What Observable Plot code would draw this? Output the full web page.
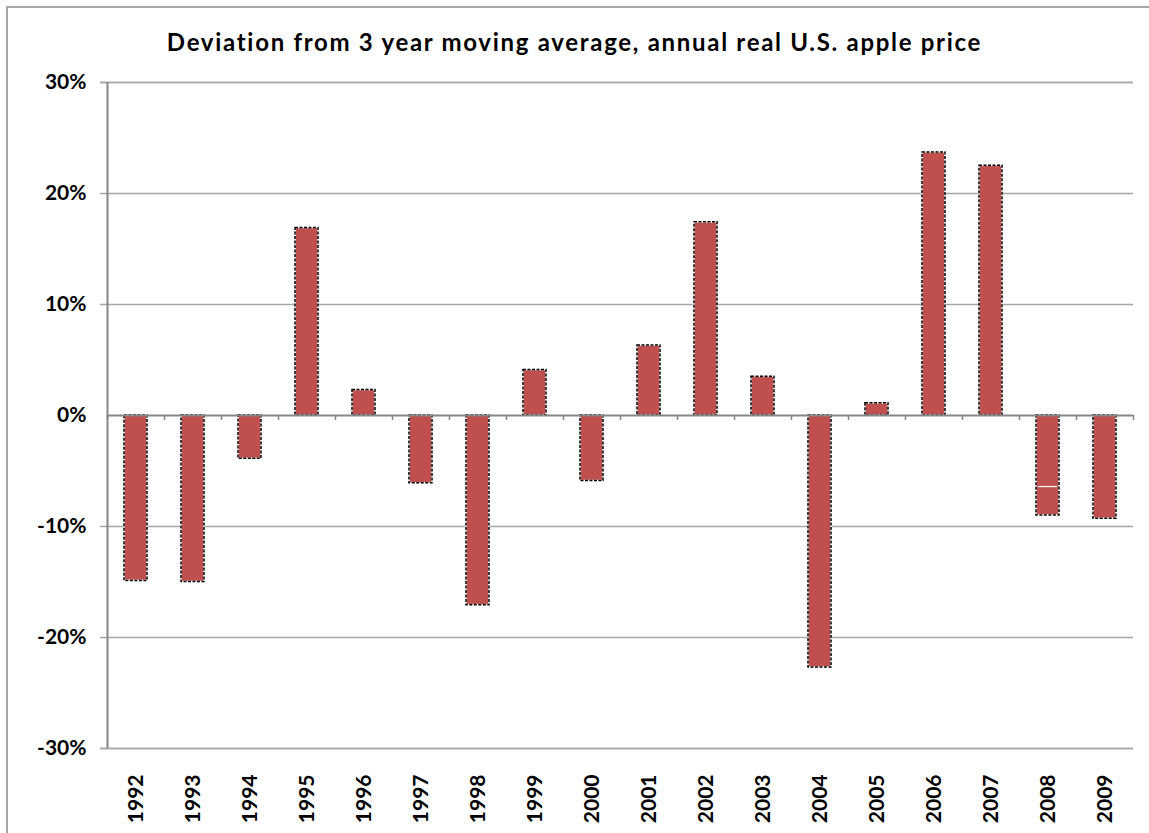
<!DOCTYPE html>
<html>
<head>
<meta charset="utf-8">
<script src="https://cdn.jsdelivr.net/npm/d3@7"></script>
<script src="https://cdn.jsdelivr.net/npm/@observablehq/plot@0.6"></script>
<style>
  html, body { margin: 0; padding: 0; background: #fff; overflow: hidden; }
  #frame { position: absolute; left: 6px; top: 6px; width: 1300px; height: 1000px; z-index: 5;
           border-left: 2px solid #a6a6a6; border-top: 2px solid #a6a6a6; pointer-events: none; }
  #title { position: absolute; left: 0; top: 27px; width: 1149px; text-align: center;
           font-family: Lato, sans-serif; font-weight: bold; font-size: 24px; line-height: 30px;
           letter-spacing: 1.7px; color: #000; }
  #chart { position: absolute; left: 0; top: 60px; }
</style>
</head>
<body>
<div id="frame"></div>
<div id="title">Deviation from 3 year moving average, annual real U.S. apple price</div>
<div id="chart"></div>
<script>
const years = [1992, 1993, 1994, 1995, 1996, 1997, 1998, 1999, 2000,
               2001, 2002, 2003, 2004, 2005, 2006, 2007, 2008, 2009];
const deviations = [-0.149, -0.150, -0.039, 0.169, 0.023, -0.061, -0.171, 0.041, -0.059,
                    0.063, 0.174, 0.035, -0.227, 0.011, 0.237, 0.225, -0.090, -0.093];
const yTicks = [-0.3, -0.2, -0.1, 0, 0.1, 0.2, 0.3];
const artifactYear = [2008];
const artifactValue = [-0.064];

const data = years.map((year, i) => ({year, value: deviations[i]}));
const artifact = artifactYear.map((year, i) => ({year, value: artifactValue[i]}));

const W = 1149, H = 773, mL = 107, mR = 16, mT = 22, mB = 85;
const step = (W - mL - mR) / years.length;

const chart = Plot.plot({
  width: W,
  height: H,
  marginLeft: mL,
  marginRight: mR,
  marginTop: mT,
  marginBottom: mB,
  style: {fontFamily: "Lato, sans-serif", fontSize: "21px", fontWeight: "bold", color: "#000", background: "#fff"},
  x: {type: "band", domain: years, paddingInner: 0.6, paddingOuter: 0.3, label: null},
  y: {domain: [-0.3, 0.3], label: null},
  marks: [
    Plot.ruleY(yTicks.filter(d => d !== 0), {y: d => d, stroke: "#a6a6a6", strokeWidth: 1.5, insetLeft: -7}),
    Plot.axisY({ticks: yTicks, tickSize: 0, tickPadding: 21, label: null, tickFormat: d => Math.round(d * 100) + "%"}),
    Plot.axisX({tickSize: 0, tickPadding: 26, tickRotate: -90, label: null, tickFormat: d => String(d)}),
    Plot.barY(data, {x: "year", y: "value", fill: "#C0504D", stroke: "#fff", strokeWidth: 1.5}),
    Plot.barY(data, {x: "year", y: "value", fill: "none", stroke: "#000", strokeWidth: 1.5, strokeDasharray: "3,1.5"}),
    Plot.tickY(artifact, {x: "year", y: "value", stroke: "#fff", strokeWidth: 1.2, insetLeft: 2, insetRight: 2}),
    Plot.ruleX(years, {x: d => d, y1: 0, y2: 0, insetBottom: -5, dx: -step / 2, stroke: "#868686", strokeWidth: 1.5}),
    Plot.ruleX([years[years.length - 1]], {x: d => d, y1: 0, y2: 0, insetBottom: -5, dx: step / 2, stroke: "#868686", strokeWidth: 1.5}),
    Plot.ruleY([0], {stroke: "#868686", strokeWidth: 2}),
    Plot.ruleY([-0.3, 0.3], {stroke: "#a6a6a6", strokeWidth: 1.5, insetLeft: -7}),
    Plot.ruleX([years[0]], {x: d => d, dx: -step / 2, y1: -0.3, y2: 0.3, stroke: "#868686", strokeWidth: 2})
  ]
});
document.getElementById("chart").appendChild(chart);
</script>
</body>
</html>
